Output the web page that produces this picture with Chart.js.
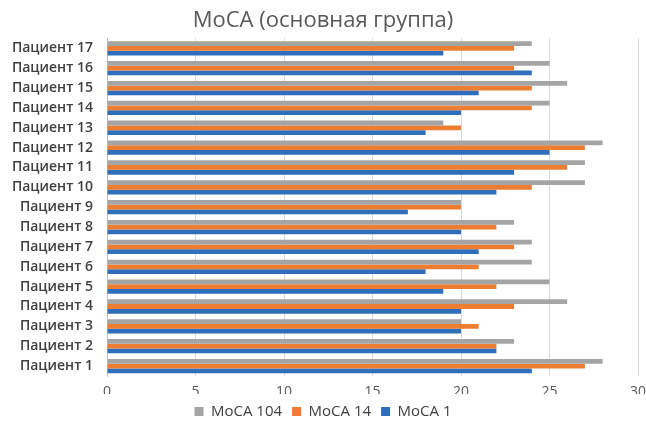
<!DOCTYPE html>
<html>
<head>
<meta charset="utf-8">
<script src="https://cdn.jsdelivr.net/npm/chart.js@4/dist/chart.umd.min.js"></script>
<style>
html,body{margin:0;padding:0;background:#fff;}
#wrap{width:646px;height:424px;}
</style>
</head>
<body>
<div id="wrap"><canvas id="c" width="646" height="424"></canvas></div>
<script>
const categories = ["Пациент 17","Пациент 16","Пациент 15","Пациент 14","Пациент 13","Пациент 12","Пациент 11","Пациент 10","Пациент 9","Пациент 8","Пациент 7","Пациент 6","Пациент 5","Пациент 4","Пациент 3","Пациент 2","Пациент 1"];
const moca104 = [24,25,26,25,19,28,27,27,20,23,24,24,25,26,20,23,28];
const moca14  = [23,23,24,24,20,27,26,24,20,22,23,21,22,23,21,22,27];
const moca1   = [19,24,21,20,18,25,23,22,17,20,21,18,19,20,20,22,24];
const xTicks = [0,5,10,15,20,25,30];
const seriesNames = ["MoCA 104","MoCA 14","MoCA 1"];
const colors = ["#A5A5A5","#ED7D31","#2F6EBA"];

const FONT = "'Open Sans', 'Liberation Sans', sans-serif";
new Chart(document.getElementById('c'), {
  type: 'bar',
  data: {
    labels: categories,
    datasets: [moca104, moca14, moca1].map((d, i) => ({
      label: seriesNames[i],
      data: d,
      backgroundColor: colors[i],
      borderWidth: 0,
      barPercentage: 1.0,
      categoryPercentage: 0.72
    }))
  },
  options: {
    indexAxis: 'y',
    responsive: false,
    animation: false,
    layout: { padding: { left: 0, right: 0, top: 6, bottom: -5 } },
    plugins: {
      title: {
        display: true,
        text: 'MoCA (основная группа)',
        color: '#595959',
        font: { family: FONT, size: 22, weight: 'normal' },
        padding: { top: 2, bottom: 4 }
      },
      legend: {
        position: 'bottom',
        labels: {
          color: '#404040',
          font: { family: FONT, size: 15 },
          boxWidth: 9, boxHeight: 9,
          padding: 10
        }
      },
      tooltip: { enabled: false }
    },
    scales: {
      x: {
        min: 0, max: 30,
        afterBuildTicks: (s) => { s.ticks = xTicks.map(v => ({ value: v })); },
        afterFit: (s) => { s.height = 18; s.paddingRight = 8; s.paddingLeft = 0; },
        ticks: { color: '#595959', font: { family: FONT, size: 14 }, padding: 8 },
        grid: { color: '#D9D9D9', drawTicks: false },
        border: { display: false }
      },
      y: {
        afterFit: (s) => { s.width = 107; },
        ticks: { color: '#404040', font: { family: FONT, size: 14, weight: '600' }, padding: 14, autoSkip: false },
        grid: { display: false, drawTicks: false },
        border: { display: true, color: '#BFBFBF' }
      }
    }
  }
});
</script>
</body>
</html>
